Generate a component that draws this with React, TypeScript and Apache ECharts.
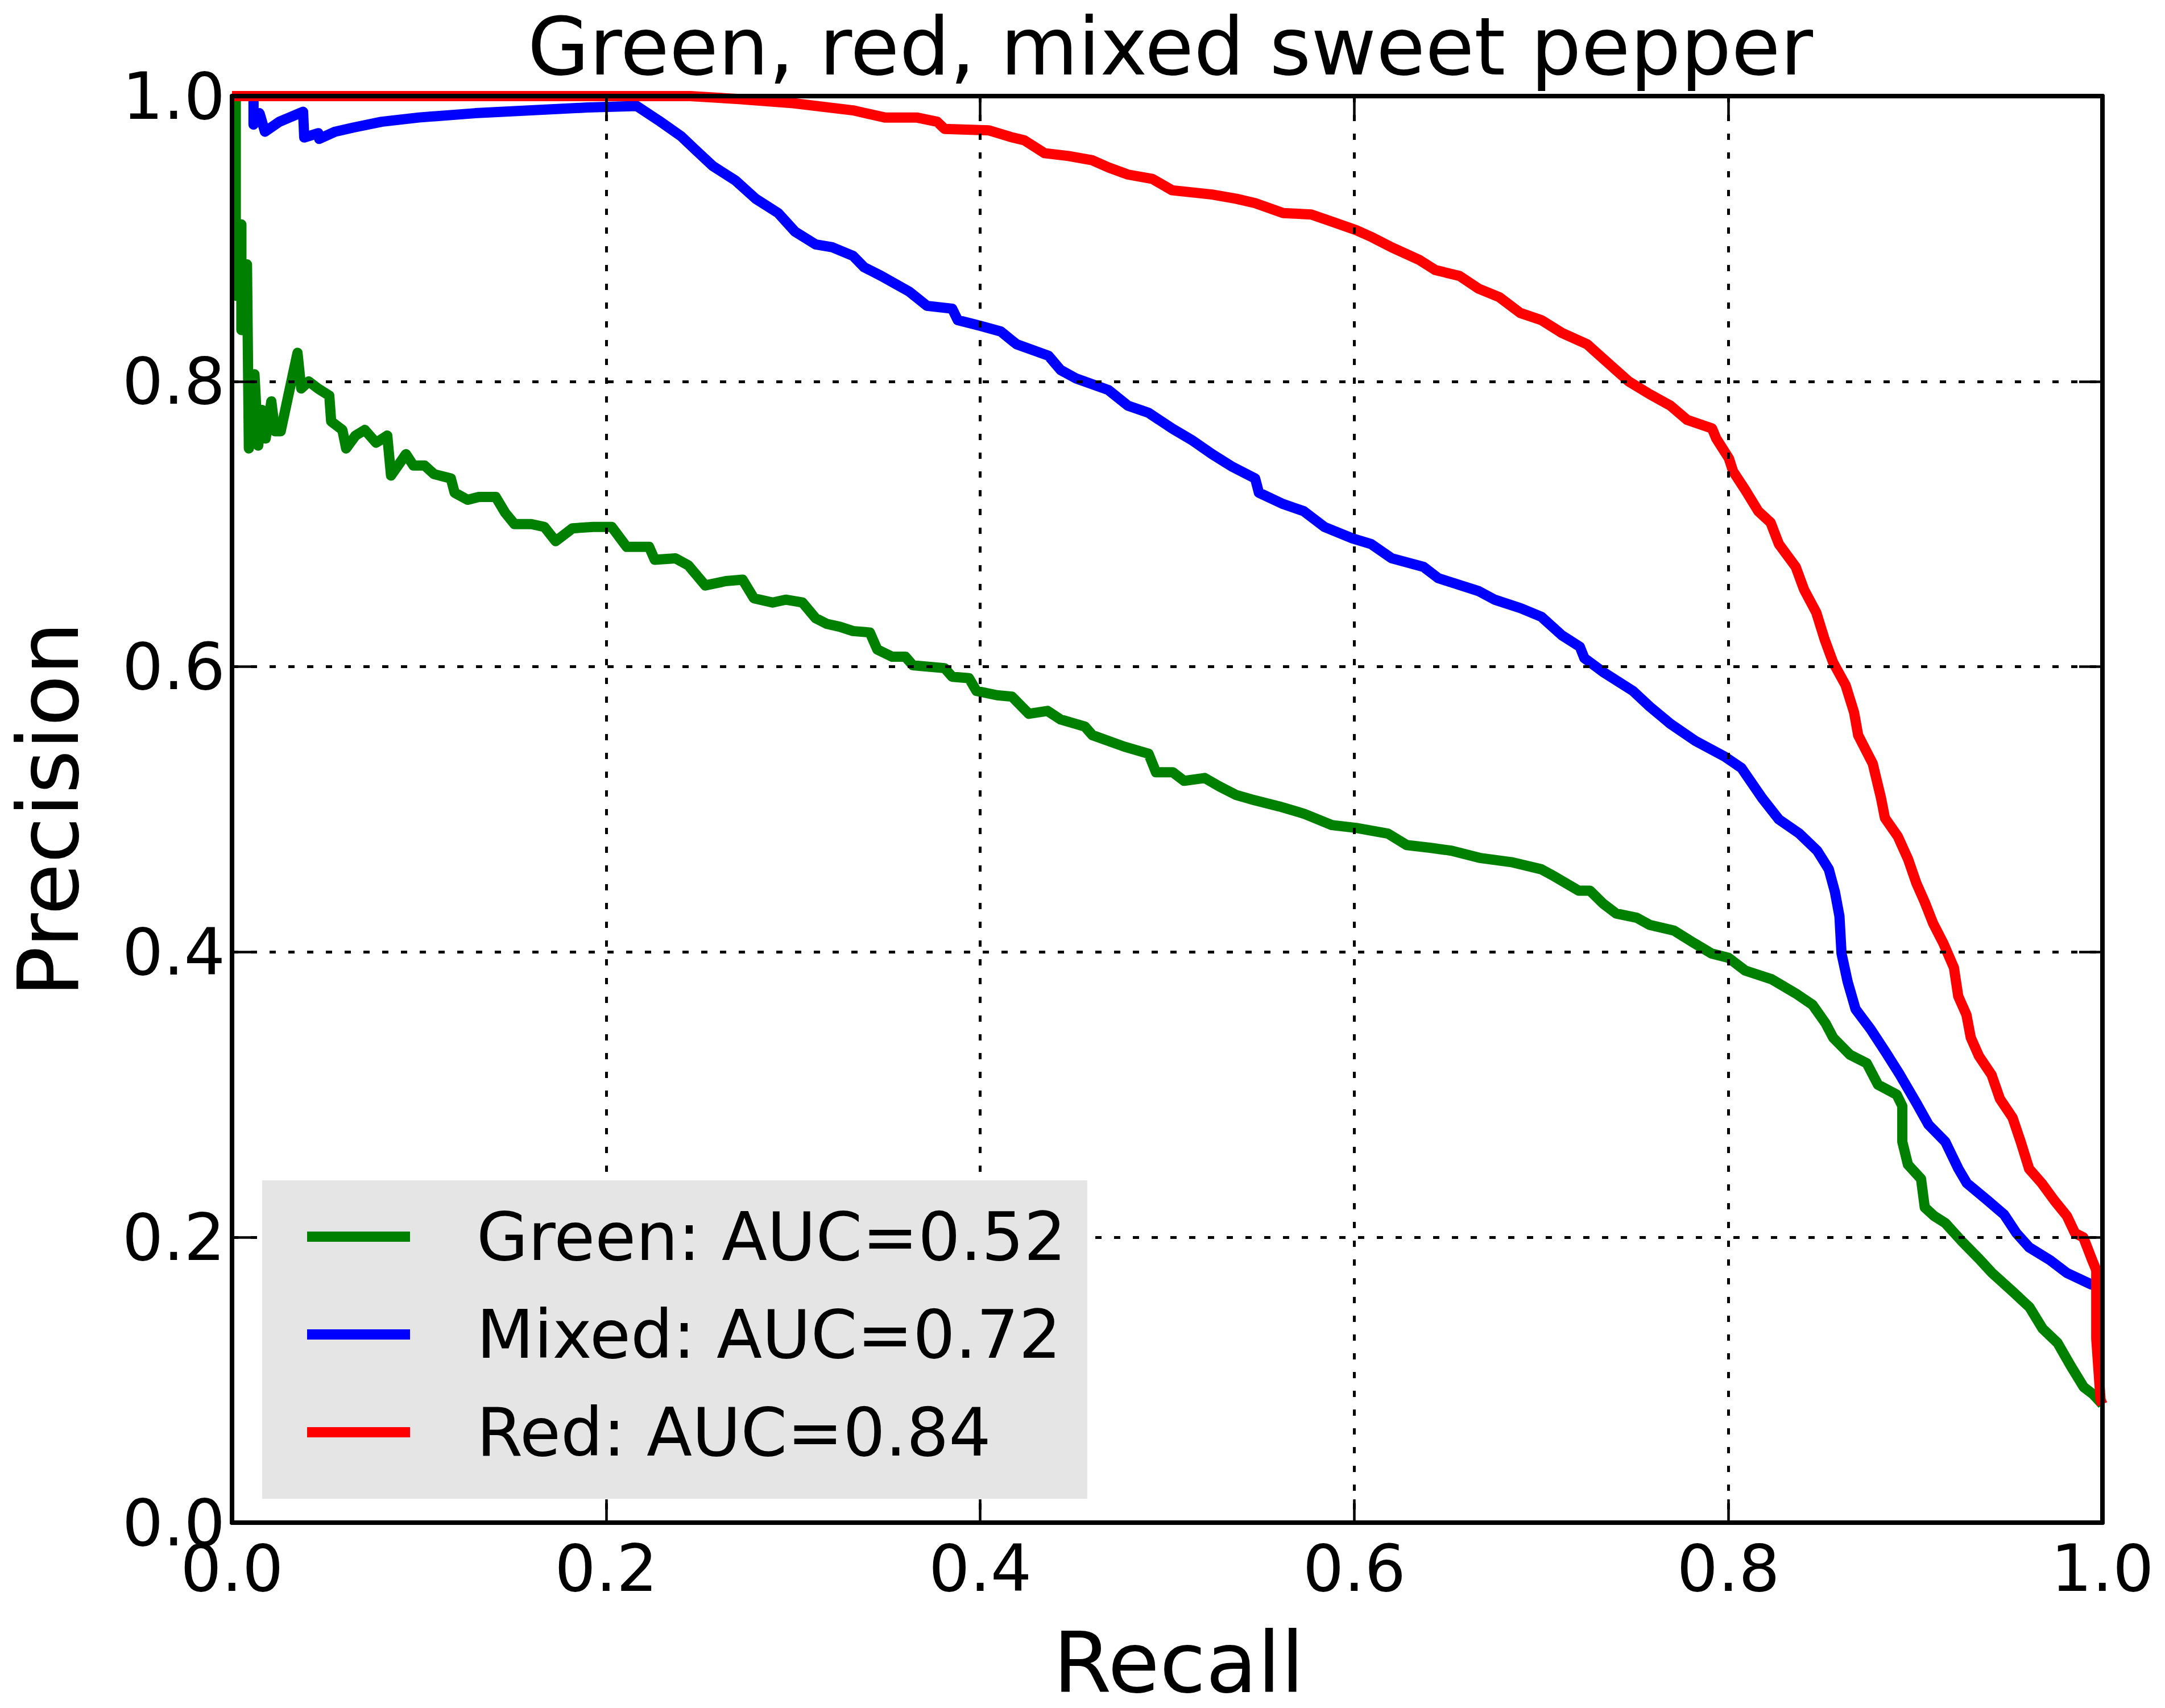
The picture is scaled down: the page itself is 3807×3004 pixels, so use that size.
import React, { useEffect, useRef } from "react";
import * as echarts from "echarts";

const TITLE = "Green, red, mixed sweet pepper";
const X_NAME = "Recall";
const Y_NAME = "Precision";
const AXIS_MIN = 0;
const AXIS_MAX = 1;
const AXIS_STEP = 0.2;

const SERIES_NAMES = ["Green: AUC=0.52", "Mixed: AUC=0.72", "Red: AUC=0.84"];
const SERIES_COLORS = ["#008000", "#0000ff", "#ff0000"];

const greenRecall = [
  0.002, 0.002, 0.005, 0.005, 0.008, 0.009, 0.012, 0.014, 0.016, 0.018, 0.021, 0.023, 0.026,
  0.035, 0.037, 0.041, 0.046, 0.052, 0.053, 0.059, 0.061, 0.066, 0.071, 0.077, 0.083, 0.085,
  0.093, 0.097, 0.103, 0.108, 0.117, 0.119, 0.126, 0.132, 0.141, 0.146, 0.151, 0.16, 0.167,
  0.173, 0.182, 0.193, 0.203, 0.211, 0.223, 0.226, 0.237, 0.244, 0.253, 0.264, 0.273, 0.279,
  0.289, 0.296, 0.305, 0.312, 0.318, 0.325, 0.332, 0.341, 0.345, 0.353, 0.36, 0.364, 0.381,
  0.385, 0.394, 0.398, 0.409, 0.417, 0.426, 0.436, 0.443, 0.456, 0.46, 0.477, 0.49, 0.494,
  0.503, 0.509, 0.52, 0.528, 0.537, 0.545, 0.56, 0.573, 0.588, 0.601, 0.618, 0.628, 0.641,
  0.652, 0.667, 0.684, 0.7, 0.707, 0.72, 0.726, 0.733, 0.74, 0.751, 0.758, 0.771, 0.782,
  0.791, 0.8, 0.809, 0.823, 0.836, 0.845, 0.852, 0.856, 0.865, 0.874, 0.88, 0.89, 0.893,
  0.893, 0.896, 0.903, 0.905, 0.91, 0.916, 0.925, 0.934, 0.941, 0.952, 0.961, 0.968, 0.976,
  0.983, 0.99, 0.995, 1.0,
];
const greenPrecision = [
  1.0, 0.86, 0.91, 0.836, 0.882, 0.753, 0.805, 0.755, 0.78, 0.76, 0.786, 0.765, 0.765,
  0.82, 0.795, 0.8, 0.795, 0.79, 0.772, 0.766, 0.753, 0.762, 0.766, 0.757, 0.762, 0.734,
  0.749, 0.741, 0.741, 0.735, 0.732, 0.722, 0.717, 0.719, 0.719, 0.708, 0.7, 0.7, 0.698,
  0.688, 0.697, 0.698, 0.698, 0.684, 0.684, 0.675, 0.676, 0.671, 0.657, 0.66, 0.661, 0.648,
  0.645, 0.647, 0.645, 0.634, 0.63, 0.628, 0.625, 0.624, 0.612, 0.607, 0.607, 0.601, 0.599,
  0.593, 0.592, 0.583, 0.58, 0.579, 0.567, 0.569, 0.563, 0.558, 0.552, 0.544, 0.539, 0.526,
  0.526, 0.52, 0.522, 0.516, 0.51, 0.507, 0.502, 0.497, 0.489, 0.487, 0.483, 0.475, 0.473,
  0.471, 0.466, 0.463, 0.458, 0.453, 0.443, 0.443, 0.434, 0.427, 0.424, 0.419, 0.415, 0.406,
  0.399, 0.396, 0.387, 0.381, 0.371, 0.363, 0.35, 0.34, 0.328, 0.322, 0.307, 0.3, 0.292,
  0.267, 0.251, 0.241, 0.221, 0.215, 0.21, 0.197, 0.185, 0.175, 0.162, 0.151, 0.136, 0.126,
  0.11, 0.095, 0.09, 0.083,
];

const mixedRecall = [
  0.0115, 0.0115, 0.0147, 0.0176, 0.0253, 0.038, 0.0386, 0.0462, 0.0466, 0.055, 0.065, 0.08,
  0.1, 0.13, 0.16, 0.19, 0.2164, 0.228, 0.24, 0.248, 0.257, 0.269, 0.28, 0.292, 0.301, 0.312,
  0.321, 0.332, 0.338, 0.347, 0.362, 0.3715, 0.385, 0.388, 0.4, 0.411, 0.4195, 0.4365, 0.443,
  0.4514, 0.4685, 0.479, 0.49, 0.5026, 0.513, 0.524, 0.535, 0.547, 0.549, 0.562, 0.573, 0.584,
  0.599, 0.609, 0.62, 0.637, 0.645, 0.6665, 0.675, 0.689, 0.7, 0.711, 0.7206, 0.723, 0.7334,
  0.749, 0.758, 0.769, 0.7824, 0.798, 0.807, 0.818, 0.827, 0.838, 0.8475, 0.8537, 0.857,
  0.8594, 0.8605, 0.8638, 0.868, 0.876, 0.884, 0.8917, 0.9006, 0.907, 0.916, 0.923, 0.9275,
  0.9385, 0.9474, 0.954, 0.9608, 0.972, 0.981, 0.994, 1.0,
];
const mixedPrecision = [
  1.0, 0.98, 0.988, 0.975, 0.982, 0.989, 0.971, 0.974, 0.97, 0.975, 0.978, 0.982,
  0.985, 0.988, 0.99, 0.992, 0.993, 0.983, 0.972, 0.962, 0.951, 0.941, 0.928, 0.918, 0.905,
  0.896, 0.894, 0.888, 0.88, 0.874, 0.863, 0.853, 0.851, 0.843, 0.839, 0.835, 0.826, 0.818,
  0.808, 0.802, 0.794, 0.783, 0.778, 0.767, 0.759, 0.749, 0.74, 0.732, 0.722, 0.714, 0.709,
  0.698, 0.69, 0.686, 0.676, 0.67, 0.662, 0.653, 0.647, 0.641, 0.635, 0.622, 0.614, 0.606,
  0.596, 0.583, 0.572, 0.56, 0.548, 0.537, 0.529, 0.508, 0.493, 0.483, 0.471, 0.458, 0.442,
  0.425, 0.399, 0.379, 0.36, 0.346, 0.33, 0.314, 0.294, 0.279, 0.267, 0.248, 0.238,
  0.226, 0.216, 0.203, 0.193, 0.184, 0.175, 0.167, 0.165,
];

const redRecall = [
  0.0, 0.245, 0.27, 0.3, 0.332, 0.349, 0.366, 0.377, 0.381, 0.4045, 0.4173, 0.4236, 0.4344,
  0.4472, 0.46, 0.4686, 0.479, 0.492, 0.5026, 0.524, 0.537, 0.547, 0.562, 0.577, 0.588, 0.601,
  0.6096, 0.62, 0.635, 0.6434, 0.6562, 0.6665, 0.6776, 0.6887, 0.7, 0.711, 0.7245, 0.7356,
  0.7467, 0.758, 0.769, 0.778, 0.7913, 0.7935, 0.8003, 0.8025, 0.809, 0.816, 0.8226, 0.827,
  0.836, 0.8405, 0.847, 0.8515, 0.856, 0.8627, 0.8672, 0.8694, 0.8772, 0.8816, 0.8837, 0.8906,
  0.8961, 0.9006, 0.905, 0.9095, 0.915, 0.9206, 0.9229, 0.9273, 0.9296, 0.934, 0.9407, 0.9452,
  0.9519, 0.9563, 0.9608, 0.9675, 0.9742, 0.981, 0.9853, 0.9898, 0.9942, 0.9967, 0.9967, 0.999,
  1.0,
];
const redPrecision = [
  1.0, 1.0, 0.998, 0.995, 0.99, 0.985, 0.985, 0.982, 0.977, 0.976, 0.971, 0.969, 0.96,
  0.958, 0.955, 0.95, 0.945, 0.942, 0.934, 0.931, 0.928, 0.925, 0.918, 0.917, 0.912, 0.906,
  0.901, 0.894, 0.885, 0.878, 0.874, 0.865, 0.859, 0.848, 0.843, 0.834, 0.826, 0.813,
  0.8, 0.791, 0.783, 0.773, 0.767, 0.76, 0.746, 0.737, 0.724, 0.709, 0.701, 0.686,
  0.67, 0.654, 0.638, 0.619, 0.603, 0.587, 0.568, 0.552, 0.532, 0.508, 0.494, 0.481,
  0.465, 0.448, 0.435, 0.42, 0.406, 0.389, 0.369, 0.356, 0.34, 0.327, 0.314, 0.297,
  0.284, 0.267, 0.248, 0.238, 0.226, 0.215, 0.203, 0.2, 0.185, 0.177, 0.129, 0.086,
  0.083,
];

const FONT = "DejaVu Sans";

function pairs(xs: number[], ys: number[]) {
  return xs.map((x, i) => [x, ys[i]]);
}

const tickFmt = (v: number) => v.toFixed(1);

export default function App() {
  const ref = useRef<HTMLDivElement>(null);

  useEffect(() => {
    if (!ref.current) return;
    const chart = echarts.init(ref.current, undefined, { renderer: "svg" });

    const axisLine = { show: true, onZero: false, lineStyle: { color: "#000", width: 8 } };
    const axisTick = { show: true, inside: true, length: 41, lineStyle: { color: "#000", width: 4.5 } };
    const splitLine = { show: true, lineStyle: { color: "#000", width: 5, type: [11, 22] } };

    const dataSets = [
      pairs(greenRecall, greenPrecision),
      pairs(mixedRecall, mixedPrecision),
      pairs(redRecall, redPrecision),
    ];

    const option: any = {
      animation: false,
      backgroundColor: "#ffffff",
      textStyle: { fontFamily: FONT },
      title: {
        text: TITLE,
        left: 2058,
        top: 12,
        textAlign: "center",
        padding: 0,
        textStyle: {
          fontFamily: FONT,
          fontSize: 140,
          lineHeight: 140,
          fontWeight: "normal",
          color: "#000",
        },
      },
      grid: { left: 408, top: 169, width: 3289, height: 2520, containLabel: false },
      legend: {
        orient: "vertical",
        left: 461,
        top: 2076,
        padding: [39, 37, 57, 79],
        backgroundColor: "#e5e5e5",
        borderWidth: 0,
        itemWidth: 181,
        itemHeight: 18,
        itemGap: 52,
        icon: "rect",
        selectedMode: false,
        data: SERIES_NAMES,
        textStyle: {
          fontFamily: FONT,
          fontSize: 117,
          color: "#000",
          lineHeight: 120,
          padding: [0, 0, 0, 112],
        },
      },
      xAxis: [
        {
          type: "value",
          min: AXIS_MIN,
          max: AXIS_MAX,
          interval: AXIS_STEP,
          position: "bottom",
          name: X_NAME,
          nameLocation: "middle",
          nameGap: 182,
          nameTextStyle: {
            fontFamily: FONT,
            fontSize: 148,
            lineHeight: 130,
            color: "#000",
            padding: [0, 0, 0, 40],
          },
          axisLine,
          axisTick,
          axisLabel: { fontFamily: FONT, fontSize: 114, color: "#000", margin: 23, formatter: tickFmt },
          splitLine,
          z: 3,
        },
        {
          type: "value",
          min: AXIS_MIN,
          max: AXIS_MAX,
          interval: AXIS_STEP,
          position: "top",
          axisLine,
          axisTick,
          axisLabel: { show: false },
          splitLine: { show: false },
          z: 3,
        },
      ],
      yAxis: [
        {
          type: "value",
          min: AXIS_MIN,
          max: AXIS_MAX,
          interval: AXIS_STEP,
          position: "left",
          name: Y_NAME,
          nameLocation: "middle",
          nameGap: 248,
          nameTextStyle: { fontFamily: FONT, fontSize: 148, lineHeight: 148, color: "#000" },
          axisLine,
          axisTick,
          axisLabel: {
            fontFamily: FONT,
            fontSize: 114,
            color: "#000",
            margin: 12,
            padding: [0, 0, 16, 0],
            formatter: tickFmt,
          },
          splitLine,
          z: 3,
        },
        {
          type: "value",
          min: AXIS_MIN,
          max: AXIS_MAX,
          interval: AXIS_STEP,
          position: "right",
          axisLine,
          axisTick,
          axisLabel: { show: false },
          splitLine: { show: false },
          z: 3,
        },
      ],
      series: SERIES_NAMES.map((name, i) => ({
        name,
        type: "line",
        xAxisIndex: 0,
        yAxisIndex: 0,
        data: dataSets[i],
        showSymbol: false,
        symbol: "none",
        clip: true,
        z: 2,
        itemStyle: { color: SERIES_COLORS[i] },
        lineStyle: { color: SERIES_COLORS[i], width: 18, join: "round", cap: "butt" },
      })),
    };

    chart.setOption(option);
    return () => chart.dispose();
  }, []);

  return (
    <div
      ref={ref}
      style={{ position: "absolute", left: 0, top: 0, width: 3807, height: 3004, background: "#fff" }}
    />
  );
}
